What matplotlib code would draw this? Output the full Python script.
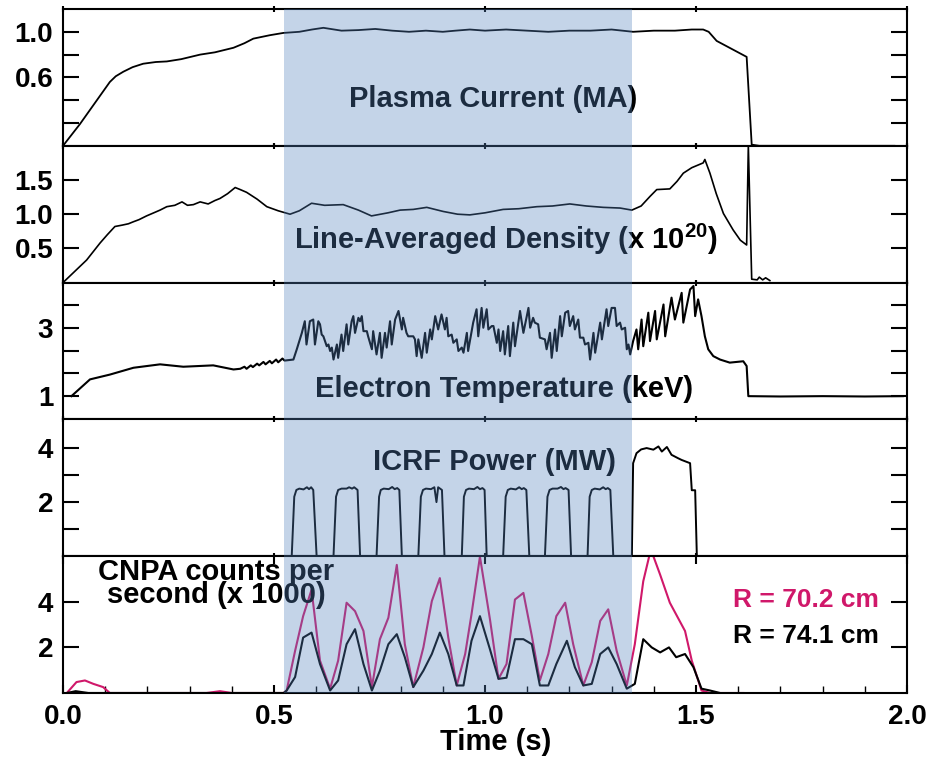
import matplotlib
matplotlib.use('Agg')
import matplotlib.pyplot as plt

plt.rcParams['font.family'] = ['Liberation Sans', 'DejaVu Sans']
plt.rcParams['mathtext.fontset'] = 'custom'
plt.rcParams['mathtext.rm'] = 'Liberation Sans:bold'
plt.rcParams['mathtext.bf'] = 'Liberation Sans:bold'
plt.rcParams['mathtext.default'] = 'bf'

# ---------------- data (time [s], value) ----------------
plasma_current = [
    (0.0, 0.0), (0.04, 0.19), (0.111, 0.56), (0.125, 0.61), (0.143, 0.65), (0.165, 0.69),
    (0.19, 0.72), (0.22, 0.735), (0.246, 0.74), (0.28, 0.76), (0.325, 0.80), (0.36, 0.82),
    (0.404, 0.86), (0.43, 0.90), (0.451, 0.94), (0.49, 0.97), (0.522, 0.99), (0.56, 1.0),
    (0.59, 1.02), (0.617, 1.035), (0.66, 1.01), (0.70, 1.015), (0.74, 1.025), (0.78, 1.01),
    (0.82, 1.0), (0.86, 1.01), (0.90, 1.0), (0.93, 1.01), (0.964, 1.02), (1.0, 1.01),
    (1.05, 1.02), (1.1, 1.01), (1.15, 1.0), (1.2, 1.01), (1.25, 1.01), (1.30, 1.02),
    (1.351, 1.0), (1.40, 1.01), (1.45, 1.01), (1.49, 1.02), (1.517, 1.02), (1.53, 1.0),
    (1.549, 0.92), (1.62, 0.78), (1.632, 0.01), (1.65, 0.0), (1.97, 0.0)]

density = [
    (0.0, 0.0), (0.056, 0.33), (0.088, 0.58), (0.105, 0.70), (0.123, 0.82), (0.14, 0.84),
    (0.155, 0.86), (0.167, 0.89), (0.18, 0.92), (0.198, 0.975), (0.215, 1.02), (0.23, 1.06),
    (0.246, 1.11), (0.265, 1.13), (0.282, 1.18), (0.295, 1.13), (0.309, 1.14), (0.325, 1.18),
    (0.344, 1.15), (0.36, 1.20), (0.372, 1.23), (0.39, 1.30), (0.408, 1.39), (0.42, 1.36),
    (0.435, 1.32), (0.46, 1.22), (0.483, 1.11), (0.51, 1.05), (0.538, 1.0), (0.56, 1.05),
    (0.589, 1.16), (0.62, 1.13), (0.664, 1.14), (0.70, 1.06), (0.731, 0.975), (0.77, 1.02),
    (0.799, 1.06), (0.83, 1.07), (0.862, 1.10), (0.901, 1.04), (0.935, 1.0), (0.964, 0.99),
    (1.0, 1.02), (1.043, 1.07), (1.08, 1.08), (1.123, 1.11), (1.16, 1.12), (1.201, 1.15),
    (1.24, 1.12), (1.28, 1.10), (1.32, 1.09), (1.348, 1.06), (1.37, 1.12), (1.391, 1.26),
    (1.407, 1.36), (1.438, 1.37), (1.455, 1.48), (1.47, 1.60), (1.49, 1.68), (1.517, 1.75),
    (1.521, 1.80), (1.533, 1.60), (1.548, 1.30), (1.565, 1.01), (1.588, 0.77), (1.605, 0.62),
    (1.62, 0.55), (1.624, 2.0), (1.632, 0.05), (1.645, 0.04), (1.65, 0.08), (1.658, 0.04),
    (1.665, 0.07), (1.675, 0.03)]

electron_temp = [
    (0.02, 1.0), (0.064, 1.49), (0.111, 1.63), (0.167, 1.83), (0.23, 1.93), (0.285, 1.86),
    (0.356, 1.90), (0.404, 1.78), (0.42, 1.80), (0.43, 1.86), (0.435, 1.80), (0.445, 1.90),
    (0.45, 1.85), (0.46, 1.95), (0.465, 1.90), (0.475, 2.0), (0.48, 1.93), (0.49, 2.03),
    (0.495, 1.96), (0.505, 2.07), (0.51, 1.99), (0.52, 2.10), (0.525, 2.04), (0.546, 2.07),
    (0.554, 2.37), (0.566, 2.85), (0.573, 3.19), (0.577, 2.51), (0.585, 3.19), (0.593, 3.24),
    (0.597, 2.51), (0.605, 3.19), (0.609, 3.10), (0.613, 2.80), (0.617, 2.75), (0.625, 2.46),
    (0.629, 2.51), (0.633, 2.32), (0.637, 2.42), (0.641, 2.07), (0.649, 2.51), (0.652, 2.12),
    (0.660, 2.80), (0.664, 2.32), (0.672, 3.10), (0.676, 2.51), (0.684, 3.19), (0.688, 3.34),
    (0.692, 2.85), (0.700, 3.29), (0.704, 3.19), (0.708, 3.34), (0.712, 2.90), (0.720, 2.90),
    (0.723, 2.75), (0.732, 2.37), (0.735, 2.90), (0.743, 2.22), (0.751, 2.85), (0.755, 2.12),
    (0.763, 2.85), (0.767, 2.42), (0.775, 3.19), (0.779, 2.51), (0.787, 3.24), (0.795, 3.49),
    (0.803, 2.95), (0.806, 3.29), (0.814, 2.85), (0.818, 2.75), (0.830, 2.75), (0.834, 2.66),
    (0.838, 2.17), (0.842, 2.66), (0.850, 2.12), (0.858, 2.85), (0.862, 2.27), (0.870, 2.95),
    (0.874, 2.66), (0.882, 3.34), (0.889, 2.95), (0.897, 3.39), (0.905, 2.95), (0.909, 3.29),
    (0.913, 2.75), (0.921, 2.80), (0.925, 2.56), (0.933, 2.66), (0.937, 2.32), (0.945, 2.42),
    (0.949, 2.27), (0.957, 2.85), (0.960, 2.32), (0.972, 3.15), (0.980, 3.54), (0.984, 2.75),
    (0.992, 3.58), (0.996, 3.0), (1.004, 3.54), (1.008, 2.95), (1.016, 3.05), (1.020, 3.05),
    (1.028, 2.56), (1.032, 2.95), (1.036, 2.32), (1.043, 2.90), (1.047, 2.22), (1.055, 3.05),
    (1.059, 2.17), (1.067, 3.15), (1.071, 2.46), (1.083, 3.49), (1.091, 2.85), (1.103, 3.58),
    (1.107, 3.0), (1.114, 3.29), (1.118, 3.15), (1.126, 3.10), (1.130, 2.71), (1.142, 2.66),
    (1.146, 2.37), (1.154, 2.85), (1.158, 2.12), (1.166, 2.95), (1.170, 2.32), (1.178, 3.34),
    (1.182, 2.75), (1.190, 3.44), (1.197, 3.49), (1.201, 3.05), (1.209, 3.34), (1.213, 2.95),
    (1.221, 3.24), (1.225, 2.71), (1.233, 2.71), (1.237, 2.51), (1.245, 2.56), (1.249, 2.07),
    (1.257, 2.85), (1.261, 2.27), (1.273, 3.15), (1.277, 2.66), (1.288, 3.54), (1.292, 3.05),
    (1.300, 3.58), (1.308, 3.58), (1.312, 3.05), (1.320, 3.15), (1.324, 2.95), (1.332, 3.0),
    (1.336, 2.37), (1.340, 2.51), (1.344, 2.22), (1.351, 2.61), (1.359, 2.95), (1.363, 2.37),
    (1.371, 3.24), (1.375, 2.46), (1.387, 3.44), (1.391, 2.61), (1.403, 3.49), (1.407, 2.66),
    (1.423, 3.68), (1.427, 2.75), (1.442, 3.88), (1.450, 3.24), (1.466, 4.02), (1.470, 3.15),
    (1.486, 4.12), (1.494, 4.22), (1.498, 3.34), (1.505, 3.83), (1.513, 3.34), (1.521, 2.75),
    (1.529, 2.37), (1.541, 2.17), (1.557, 2.07), (1.580, 1.98), (1.612, 2.02), (1.620, 1.88),
    (1.624, 1.0), (1.70, 0.99), (1.80, 1.0), (1.90, 0.99), (1.99, 1.0)]

icrf_power = [
    (0.52, 0.0),
    (0.542, 0.0), (0.548, 2.2), (0.553, 2.45), (0.560, 2.5), (0.570, 2.47), (0.578, 2.55),
    (0.583, 2.48), (0.588, 2.55), (0.593, 2.45), (0.601, 0.0),
    (0.641, 0.0), (0.647, 2.2), (0.652, 2.45), (0.660, 2.5), (0.672, 2.5), (0.678, 2.55),
    (0.685, 2.5), (0.690, 2.55), (0.698, 2.45), (0.704, 0.0),
    (0.743, 0.0), (0.749, 2.2), (0.753, 2.45), (0.760, 2.5), (0.772, 2.48), (0.780, 2.56),
    (0.786, 2.48), (0.792, 2.52), (0.797, 2.45), (0.803, 0.0),
    (0.842, 0.0), (0.848, 2.2), (0.853, 2.45), (0.860, 2.5), (0.872, 2.48), (0.880, 2.55),
    (0.885, 2.0), (0.889, 2.55), (0.898, 2.45), (0.904, 0.0),
    (0.945, 0.0), (0.950, 2.2), (0.955, 2.45), (0.962, 2.5), (0.974, 2.48), (0.982, 2.56),
    (0.988, 2.48), (0.994, 2.52), (0.999, 2.45), (1.004, 0.0),
    (1.043, 0.0), (1.049, 2.2), (1.054, 2.45), (1.061, 2.5), (1.073, 2.47), (1.081, 2.55),
    (1.087, 2.48), (1.092, 2.52), (1.098, 2.45), (1.105, 0.0),
    (1.142, 0.0), (1.148, 2.2), (1.153, 2.45), (1.160, 2.5), (1.172, 2.5), (1.180, 2.56),
    (1.186, 2.48), (1.191, 2.52), (1.198, 2.45), (1.204, 0.0),
    (1.243, 0.0), (1.248, 2.2), (1.253, 2.45), (1.260, 2.5), (1.272, 2.47), (1.280, 2.55),
    (1.286, 2.48), (1.291, 2.52), (1.297, 2.45), (1.304, 0.0),
    (1.348, 0.0), (1.351, 3.44), (1.359, 3.81), (1.370, 3.95), (1.383, 4.0), (1.399, 3.94),
    (1.411, 4.06), (1.419, 3.87), (1.431, 4.04), (1.442, 3.75), (1.458, 3.62), (1.466, 3.56),
    (1.486, 3.44), (1.490, 2.44), (1.498, 2.44), (1.502, 0.0)]

cnpa_r70 = [
    (0.009, 0.0), (0.032, 0.48), (0.052, 0.55), (0.072, 0.40), (0.095, 0.26), (0.111, 0.0),
    (0.34, 0.0), (0.372, 0.08), (0.40, 0.0), (0.523, 0.0),
    (0.530, 0.11), (0.550, 1.85), (0.569, 3.37), (0.589, 4.53), (0.609, 1.42), (0.633, 0.19),
    (0.652, 1.42), (0.672, 3.96), (0.692, 3.59), (0.712, 2.72), (0.732, 0.26), (0.751, 2.36),
    (0.771, 3.30), (0.791, 5.62), (0.810, 2.14), (0.830, 0.26), (0.854, 2.0), (0.874, 4.03),
    (0.893, 5.04), (0.913, 2.43), (0.933, 0.33), (0.953, 1.71), (0.968, 3.45), (0.988, 5.98),
    (1.012, 3.2), (1.032, 0.62), (1.051, 1.27), (1.071, 4.1), (1.091, 4.39), (1.111, 2.5),
    (1.130, 0.55), (1.150, 1.71), (1.169, 3.37), (1.190, 3.96), (1.209, 2.14), (1.233, 0.33),
    (1.253, 1.35), (1.273, 3.16), (1.292, 3.67), (1.312, 1.85), (1.336, 0.33), (1.355, 2.14),
    (1.375, 4.90), (1.393, 6.3), (1.415, 5.19), (1.438, 3.96), (1.474, 2.72), (1.490, 1.42),
    (1.513, 0.11), (1.533, 0.0), (1.612, 0.0)]

cnpa_r74 = [
    (0.009, 0.0), (0.03, 0.08), (0.06, 0.0), (0.523, 0.0),
    (0.530, 0.11), (0.550, 0.70), (0.569, 2.43), (0.589, 2.65), (0.609, 1.27), (0.633, 0.11),
    (0.652, 0.55), (0.672, 2.14), (0.692, 2.80), (0.712, 1.27), (0.732, 0.11), (0.751, 0.98),
    (0.771, 2.14), (0.791, 2.58), (0.810, 1.57), (0.830, 0.26), (0.854, 0.98), (0.874, 1.71),
    (0.893, 2.65), (0.913, 1.71), (0.933, 0.33), (0.949, 0.33), (0.968, 2.29), (0.988, 3.37),
    (1.012, 1.9), (1.032, 0.62), (1.051, 0.67), (1.071, 2.36), (1.091, 2.36), (1.111, 2.14),
    (1.130, 0.33), (1.150, 0.33), (1.169, 1.27), (1.194, 2.29), (1.213, 1.13), (1.233, 0.33),
    (1.253, 0.40), (1.273, 1.71), (1.292, 2.0), (1.312, 1.27), (1.336, 0.19), (1.355, 0.40),
    (1.375, 2.36), (1.395, 2.0), (1.415, 1.78), (1.436, 2.0), (1.453, 1.57), (1.474, 1.71),
    (1.494, 1.13), (1.513, 0.19), (1.533, 0.11), (1.557, 0.0)]

shade_window = (0.523, 1.348)

panel_labels = ['Plasma Current (MA)', 'Line-Averaged Density (x 10$^{20}$)',
                'Electron Temperature (keV)', 'ICRF Power (MW)',
                'CNPA counts per\nsecond (x 1000)']
panel_ylims = [(0, 1.2), (0, 2.0), (0.32, 4.32), (0, 5.06), (0, 6.0)]
panel_yticks = [[0.2, 0.4, 0.6, 0.8, 1.0], [0.5, 1.0, 1.5],
                [1.0, 5 / 3, 7 / 3, 3.0, 11 / 3], [1, 2, 3, 4], [2, 4]]
panel_yticklabels = [['', '', '0.6', '', '1.0'], ['0.5', '1.0', '1.5'],
                     ['1', '', '', '3', ''], ['', '2', '', '4'], ['2', '4']]
x_ticks = [0.0, 0.5, 1.0, 1.5, 2.0]
x_ticklabels = ['0.0', '0.5', '1.0', '1.5', '2.0']
legend_labels = ['R = 70.2 cm', 'R = 74.1 cm']

# ---------------- figure ----------------
W, H = 940, 759
fig = plt.figure(figsize=(W / 100, H / 100), dpi=100)
L, R = 63 / W, 907 / W
top_px, bot_px = 9, 693
ph = (bot_px - top_px) / 5

MAG = '#D0186A'
BLK = 'black'
axes = []
for i in range(5):
    y0 = 1 - (top_px + (i + 1) * ph) / H
    ax = fig.add_axes([L, y0, R - L, ph / H])
    ax.set_xlim(0, 2.0)
    ax.set_ylim(*panel_ylims[i])
    ax.set_yticks(panel_yticks[i])
    ax.set_yticklabels(panel_yticklabels[i])
    ax.tick_params(axis='y', which='major', direction='in', length=11.5, width=1.5,
                   left=True, right=True, labelsize=20, pad=7)
    for lab in ax.get_yticklabels():
        lab.set_fontweight('bold')
    ax.set_xticks(x_ticks)
    if i < 4:
        ax.tick_params(axis='x', which='major', direction='inout', length=5, width=1.5,
                       top=True, bottom=True, labelbottom=False)
    else:
        ax.set_xticks([0.1 * k for k in range(21)], minor=True)
        ax.tick_params(axis='x', which='major', direction='in', length=6, width=1.5,
                       top=True, bottom=True, labelsize=20, pad=8)
        ax.tick_params(axis='x', which='minor', direction='in', length=5, width=1.0,
                       top=False, bottom=True)
        ax.set_xticklabels(x_ticklabels)
        for lab in ax.get_xticklabels():
            lab.set_fontweight('bold')
    for s in ax.spines.values():
        s.set_linewidth(1.5)
    axes.append(ax)

def draw(ax, pts, color, lw):
    ax.plot([p[0] for p in pts], [p[1] for p in pts], color=color, lw=lw, clip_on=True)

draw(axes[0], plasma_current, BLK, 1.3)
draw(axes[1], density, BLK, 1.2)
draw(axes[2], electron_temp, BLK, 1.5)
draw(axes[3], icrf_power, BLK, 1.4)
draw(axes[4], cnpa_r70, MAG, 1.5)
draw(axes[4], cnpa_r74, BLK, 1.5)

def ftext(xpx, ypx, s, **kw):
    fig.text(xpx / W, 1 - ypx / H, s, **kw)

tkw = dict(fontsize=21, fontweight='bold', ha='center', va='baseline', color='black')
ftext(493, 107, panel_labels[0], **tkw)
ftext(506, 249, panel_labels[1], **tkw)
ftext(504, 397, panel_labels[2], **tkw)
ftext(495, 470, panel_labels[3], **tkw)
ftext(216, 603, panel_labels[4], fontsize=21, fontweight='bold', ha='center',
      va='baseline', color='black', linespacing=0.78, multialignment='center')
ftext(733, 607, legend_labels[0], fontsize=19, fontweight='bold', ha='left',
      va='baseline', color=MAG)
ftext(733, 643, legend_labels[1], fontsize=19, fontweight='bold', ha='left',
      va='baseline', color=BLK)
ftext(496, 750, 'Time (s)', **tkw)

# translucent shading on top of everything
oax = fig.add_axes([L, 1 - bot_px / H, R - L, (bot_px - top_px) / H], zorder=10)
oax.set_xlim(0, 2.0)
oax.set_ylim(0, 1)
oax.axvspan(shade_window[0], shade_window[1], color='#5382BE', alpha=0.34, lw=0)
oax.axis('off')

fig.savefig('out.png', dpi=100)
